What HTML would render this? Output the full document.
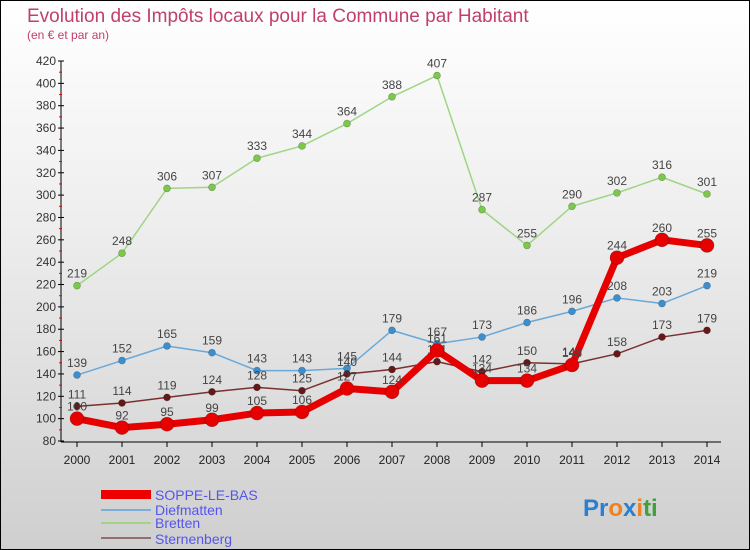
<!DOCTYPE html>
<html><head><meta charset="utf-8"><style>
body{margin:0}
#c{width:748px;height:548px;border:1px solid #000;position:relative;background:linear-gradient(#fff 0%,#eee 40%,#cfcfcf 100%);font-family:"Liberation Sans",sans-serif;overflow:hidden}
</style></head><body>
<div id="c">
<svg id="s" width="748" height="548" style="position:absolute;left:0;top:0">
<text x="26" y="21" font-size="19" fill="#c0406a">Evolution des Impôts locaux pour la Commune par Habitant</text>
<text x="26" y="38" font-size="12" fill="#c0406a">(en € et par an)</text>
<g id="axes"></g><g id="series"></g>
<g>
<rect x="100" y="489" width="50" height="9" fill="#e00"/>
<text x="154" y="499" font-size="14" fill="#5555ee">SOPPE-LE-BAS</text>
<rect x="100" y="508" width="50" height="2" fill="#7aaed4"/>
<text x="154" y="514" font-size="14" fill="#5555ee">Diefmatten</text>
<rect x="100" y="521" width="50" height="2" fill="#9fd585"/>
<text x="154" y="527" font-size="14" fill="#5555ee">Bretten</text>
<rect x="100" y="536" width="50" height="2" fill="#937070"/>
<text x="154" y="543" font-size="14" fill="#5555ee">Sternenberg</text>
</g>
<text x="582" y="515" font-size="24" font-weight="bold"><tspan fill="#2a7fd0">Pr</tspan><tspan fill="#f08020">o</tspan><tspan fill="#2a7fd0">x</tspan><tspan fill="#f08020">i</tspan><tspan fill="#40a040">ti</tspan></text>
</svg></div>
<script>
const years=[2000,2001,2002,2003,2004,2005,2006,2007,2008,2009,2010,2011,2012,2013,2014];
const soppe=[100,92,95,99,105,106,127,124,161,134,134,148,244,260,255];
const diefmatten=[139,152,165,159,143,143,145,179,167,173,186,196,208,203,219];
const bretten=[219,248,306,307,333,344,364,388,407,287,255,290,302,316,301];
const sternenberg=[111,114,119,124,128,125,140,144,151,142,150,149,158,173,179];
const yTicks=[80,100,120,140,160,180,200,220,240,260,280,300,320,340,360,380,400,420];
const NS='http://www.w3.org/2000/svg';
const X=i=>76+i*45, Y=v=>440-(v-80)*380/340;
function mk(t,a,p){const e=document.createElementNS(NS,t);for(const k in a)e.setAttribute(k,a[k]);p.appendChild(e);return e;}
const ax=document.getElementById('axes');
let e=mk('line',{x1:60,y1:60,x2:60,y2:441,stroke:'#000'},ax);

e=mk('line',{x1:60,y1:441,x2:720,y2:441,stroke:'#000'},ax);

yTicks.forEach(v=>{
 mk('line',{x1:57,y1:Y(v),x2:63,y2:Y(v),stroke:'#000'},ax);
 if(v<420)mk('line',{x1:58,y1:Y(v+10),x2:61,y2:Y(v+10),stroke:'#e00'},ax);
 const t=mk('text',{x:55,y:Y(v)+4,'font-size':12,fill:'#333','text-anchor':'end'},ax);t.textContent=v;
 
});
years.forEach((y,i)=>{
 mk('line',{x1:X(i),y1:441,x2:X(i),y2:446,stroke:'#000'},ax);
 const t=mk('text',{x:X(i),y:463,'font-size':12,fill:'#222','text-anchor':'middle'},ax);t.textContent=y;
 
});
const sg=document.getElementById('series');
function draw(arr,col,w,r,dot,name){
 const g=mk('g',{},sg);
 
 mk('polyline',{points:arr.map((v,i)=>X(i)+','+Y(v)).join(' '),fill:'none',stroke:col,'stroke-width':w,'stroke-linejoin':'round'},g);
 arr.forEach((v,i)=>{
  const c=mk('circle',{cx:X(i),cy:Y(v),r:r,fill:dot,stroke:'rgba(0,0,0,0.3)','stroke-width':0.6},g);
  
  const t=mk('text',{x:X(i),y:Y(v)-8,'font-size':12,fill:'#444','text-anchor':'middle'},g);t.textContent=v;
  
 });
}
draw(bretten,'#9fd585',1.5,3.5,'#7cc84a','bretten');
draw(diefmatten,'#6aa8d8',1.5,3.5,'#3a8fd0','diefmatten');
draw(sternenberg,'#7a3030',1.5,3.5,'#661818','sternenberg');
draw(soppe,'#e60000',7,7,'#e60000','soppe');
</script>
</body></html>
